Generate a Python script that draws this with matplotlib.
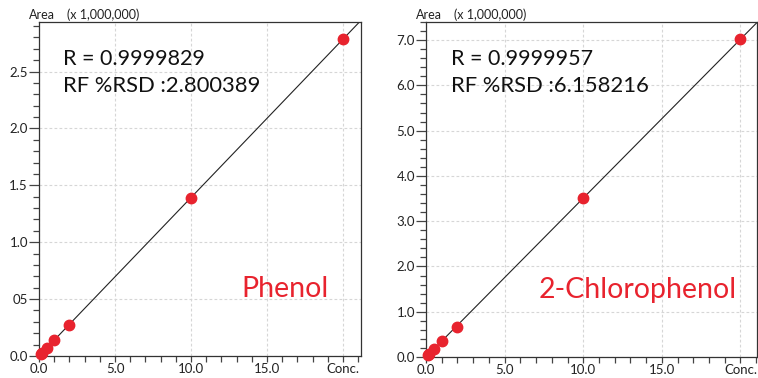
import matplotlib
matplotlib.use("Agg")
import matplotlib.pyplot as plt
from matplotlib.ticker import MultipleLocator, FixedLocator, FixedFormatter

plt.rcParams["font.family"] = ["Lato", "DejaVu Sans"]

# calibration data (Conc vs Area x 1,000,000)
conc = [0.1, 0.2, 0.5, 1.0, 2.0, 10.0, 20.0]
phenol_area = [0.014, 0.028, 0.07, 0.14, 0.27, 1.39, 2.785]
chloro_area = [0.035, 0.07, 0.18, 0.35, 0.67, 3.51, 7.02]

panels = [
    dict(name="Phenol", y=phenol_area, r="R = 0.9999829", rsd="RF %RSD :2.800389",
         ymax=2.935, xmax=21.18, ymajor=[0.0, 0.5, 1.0, 1.5, 2.0, 2.5],
         ylabels=["0.0", "05", "1.0", "1.5", "2.0", "2.5"], yminor=0.1,
         rect=[39, 22, 361, 356], name_x=0.627),
    dict(name="2-Chlorophenol", y=chloro_area, r="R = 0.9999957", rsd="RF %RSD :6.158216",
         ymax=7.40, xmax=21.05, ymajor=[0, 1, 2, 3, 4, 5, 6, 7],
         ylabels=["0.0", "1.0", "2.0", "3.0", "4.0", "5.0", "6.0", "7.0"], yminor=0.2,
         rect=[426, 22, 757, 357], name_x=0.341),
]

W, H = 758, 378
fig = plt.figure(figsize=(W / 100, H / 100), dpi=100)
red = "#e8232e"
dark = "#222222"

for p in panels:
    x0, y0, x1, y1 = p["rect"]
    ax = fig.add_axes([x0 / W, 1 - y1 / H, (x1 - x0) / W, (y1 - y0) / H])
    ax.set_xlim(0, p["xmax"])
    ax.set_ylim(0, p["ymax"])

    # fit line through origin
    slope = p["y"][-1] / conc[-1]
    ax.plot([0, 25], [0, 25 * slope], color=dark, lw=0.8, zorder=2)
    ax.plot(conc, p["y"], "o", color=red, ms=7.5, mec=red, zorder=3, clip_on=False)

    ax.xaxis.set_major_locator(FixedLocator([0, 5, 10, 15, 20]))
    ax.xaxis.set_major_formatter(FixedFormatter(["0.0", "5.0", "10.0", "15.0", "Conc."]))
    ax.xaxis.set_minor_locator(MultipleLocator(1.0))
    ax.yaxis.set_major_locator(FixedLocator(p["ymajor"]))
    ax.yaxis.set_major_formatter(FixedFormatter(p["ylabels"]))
    ax.yaxis.set_minor_locator(MultipleLocator(p["yminor"]))

    ax.grid(True, which="major", color="#d6d6d6", ls=(0, (2.5, 2)), lw=0.8)
    ax.set_axisbelow(True)
    ax.tick_params(axis="y", which="major", length=7, width=0.9, color="#444444",
                   labelsize=9.5, labelcolor=dark, pad=1)
    ax.tick_params(axis="y", which="minor", length=4.5, width=0.9, color="#444444")
    ax.tick_params(axis="x", which="major", length=4, width=0.9, color="#444444",
                   labelsize=9.5, labelcolor=dark, pad=1)
    ax.tick_params(axis="x", which="minor", length=4, width=0.9, color="#444444")
    for s in ax.spines.values():
        s.set_color("#333333")
        s.set_linewidth(0.9)

    ax.text(0.075, 0.871, p["r"], transform=ax.transAxes, fontsize=15.5, color="#111111", va="baseline")
    ax.text(0.075, 0.790, p["rsd"], transform=ax.transAxes, fontsize=15.8, color="#111111", va="baseline")
    ax.text(p["name_x"], 0.177, p["name"], transform=ax.transAxes, fontsize=20.5, color=red, va="baseline")

    fig.text((x0 - 10) / W, 1 - 19 / H, "Area", fontsize=9, color=dark, va="baseline")
    fig.text((x0 + 28) / W, 1 - 19 / H, "(x 1,000,000)", fontsize=9, color=dark, va="baseline")

fig.savefig("out.png", dpi=100)
